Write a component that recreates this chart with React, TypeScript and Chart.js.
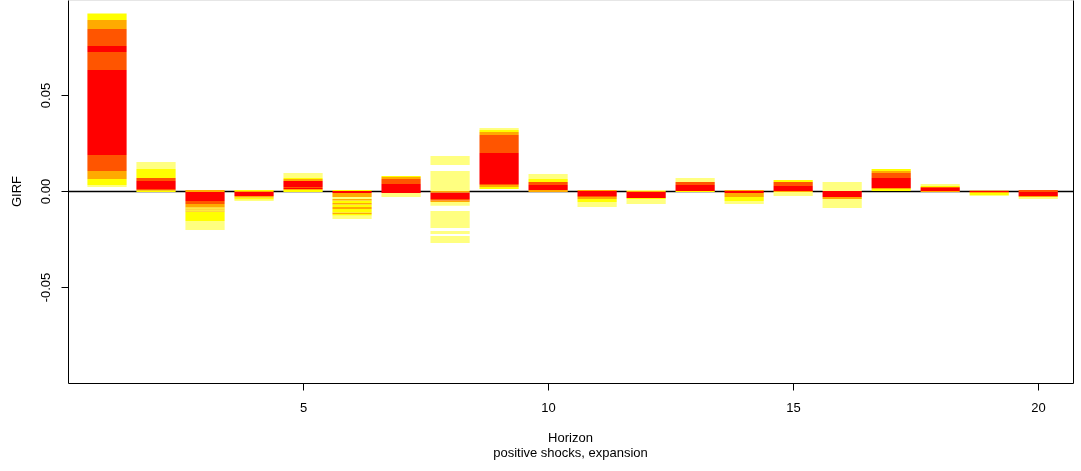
import React, { useEffect, useRef } from "react";
import { Chart, registerables } from "chart.js";

Chart.register(...registerables);

// Horizon index (x categories)
const horizons = [1, 2, 3, 4, 5, 6, 7, 8, 9, 10, 11, 12, 13, 14, 15, 16, 17, 18, 19, 20];
// R heat.colors(5): red, orange-red, orange, yellow, light yellow
const heatColors = ["#FF0000", "#FF5500", "#FFAA00", "#FFFF00", "#FFFF80"];
const yTicks = [-0.05, 0, 0.05];
const yTickLabels = ["-0.05", "0.00", "0.05"];
const xTicks = [5, 10, 15, 20];
const xTickLabels = ["5", "10", "15", "20"];

// Bands per horizon: [upper, lower, colour index]
const h1 = [
  [0.0927, 0.0922, 4], [0.0922, 0.0891, 3], [0.0891, 0.0844, 2], [0.0844, 0.0755, 1],
  [0.0755, 0.0724, 0], [0.0724, 0.063, 1], [0.063, 0.0188, 0], [0.0188, 0.0104, 1],
  [0.0104, 0.0063, 2], [0.0063, 0.0031, 3], [0.0031, 0.0021, 4],
];
const h2 = [
  [0.0151, 0.0115, 4], [0.0115, 0.0068, 3], [0.0068, 0.0052, 1], [0.0052, 0.001, 0],
  [0.001, 0.0004, 1], [0.0004, -0.0005, 3],
];
const h3 = [
  [0.0005, -0.0005, 2], [-0.0005, -0.0052, 0], [-0.0052, -0.0068, 1], [-0.0068, -0.0086, 2],
  [-0.0086, -0.0091, 3], [-0.0091, -0.0096, 2], [-0.0096, -0.0102, 3], [-0.0102, -0.0107, 2],
  [-0.0107, -0.0156, 3], [-0.0156, -0.0203, 4],
];
const h4 = [
  [0.0005, 0, 3], [0, -0.0005, 2], [-0.0005, -0.0026, 0], [-0.0026, -0.0034, 2],
  [-0.0034, -0.0044, 3], [-0.0044, -0.0052, 4],
];
const h5 = [
  [0.0094, 0.0068, 4], [0.0068, 0.0063, 3], [0.0063, 0.0052, 2], [0.0052, 0.0021, 0],
  [0.0021, 0.0016, 1], [0.0016, 0.001, 0], [0.001, 0.0005, 2], [0.0005, -0.0005, 3],
];
const h6 = [
  [0.0005, 0, 3], [0, -0.001, 0], [-0.001, -0.0031, 2], [-0.0031, -0.0042, 4],
  [-0.0042, -0.0049, 2], [-0.0049, -0.0063, 3], [-0.0063, -0.007, 2], [-0.007, -0.0083, 3],
  [-0.0083, -0.0094, 2], [-0.0094, -0.0112, 3], [-0.0112, -0.012, 2], [-0.012, -0.0128, 3],
  [-0.0128, -0.0146, 4],
];
const h7 = [
  [0.0078, 0.0073, 3], [0.0073, 0.0063, 2], [0.0063, 0.0036, 1], [0.0036, -0.001, 0],
  [-0.001, -0.0031, 4],
];
const h8 = [
  [0.0182, 0.0135, 4], [0.0104, 0.0, 4], [0.0, -0.0008, 2], [-0.0008, -0.0042, 0],
  [-0.0042, -0.0049, 1], [-0.0049, -0.0057, 2], [-0.0057, -0.0077, 4], [-0.0104, -0.0193, 4],
  [-0.0208, -0.0224, 4], [-0.0234, -0.0271, 4],
];
const h9 = [
  [0.0328, 0.0318, 4], [0.0318, 0.0307, 3], [0.0307, 0.0292, 2], [0.0292, 0.0198, 1],
  [0.0198, 0.0036, 0], [0.0036, 0.0031, 1], [0.0031, 0.0021, 2], [0.0021, 0.001, 3],
];
const h10 = [
  [0.0089, 0.0063, 4], [0.0063, 0.0047, 3], [0.0047, 0.0031, 1], [0.0031, 0.0005, 0],
  [0.0005, -0.0005, 2],
];
const h11 = [
  [0.0005, 0, 2], [0, -0.0026, 0], [-0.0026, -0.0031, 1], [-0.0031, -0.0042, 2],
  [-0.0042, -0.0057, 3], [-0.0057, -0.0083, 4],
];
const h12 = [
  [0.0005, 0, 4], [0, -0.0005, 2], [-0.0005, -0.0036, 0], [-0.0036, -0.0042, 3],
  [-0.0042, -0.0068, 4],
];
const h13 = [
  [0.0068, 0.0047, 4], [0.0047, 0.0031, 1], [0.0031, 0, 0], [0, -0.0005, 3],
];
const h14 = [
  [0.0005, 0, 2], [0, -0.001, 0], [-0.001, -0.0031, 2], [-0.0031, -0.0052, 3],
  [-0.0052, -0.0068, 4],
];
const h15 = [
  [0.0057, 0.0047, 3], [0.0047, 0.0026, 1], [0.0026, 0, 0], [0, -0.0005, 2],
  [-0.0005, -0.0026, 4],
];
const h16 = [
  [0.0047, 0, 4], [0, -0.0031, 0], [-0.0031, -0.0042, 2], [-0.0042, -0.0089, 4],
];
const h17 = [
  [0.0115, 0.0104, 3], [0.0104, 0.0094, 2], [0.0094, 0.0068, 1], [0.0068, 0.0016, 0],
  [0.0016, 0.001, 2], [0.001, 0, 3],
];
const h18 = [
  [0.0036, 0.0026, 4], [0.0026, 0.0021, 3], [0.0021, 0.0016, 1], [0.0016, 0, 0],
  [0, -0.0005, 2],
];
const h19 = [
  [0.0003, 0, 2], [0, -0.0005, 0], [-0.0005, -0.001, 2], [-0.001, -0.0021, 3],
  [-0.0021, -0.0026, 4],
];
const h20 = [
  [0.0005, -0.0005, 1], [-0.0005, -0.0026, 0], [-0.0026, -0.0031, 2], [-0.0031, -0.0042, 4],
];

const bands = [h1, h2, h3, h4, h5, h6, h7, h8, h9, h10, h11, h12, h13, h14, h15, h16, h17, h18, h19, h20];

const xTitle = "Horizon";
const xSubtitle = "positive shocks, expansion";
const yTitle = "GIRF";

const FONT = '13px "Liberation Sans", Arial, sans-serif';

export default function App() {
  const ref = useRef<HTMLCanvasElement>(null);

  useEffect(() => {
    if (!ref.current) return;
    const maxLayers = Math.max(...bands.map((b) => b.length));
    const datasets: any[] = [];
    for (let k = 0; k < maxLayers; k++) {
      datasets.push({
        data: bands.map((b) => (b[k] ? [b[k][1], b[k][0]] : null)),
        backgroundColor: bands.map((b) => (b[k] ? heatColors[b[k][2]] : "rgba(0,0,0,0)")),
        borderWidth: 0,
        borderSkipped: false,
        grouped: false,
        barPercentage: 0.8,
        categoryPercentage: 1,
      });
    }

    const rAxes = {
      id: "rAxes",
      beforeDatasetsDraw(chart: any) {
        const { ctx, chartArea, scales } = chart;
        const y0 = Math.round(scales.y.getPixelForValue(0)) + 0.5;
        ctx.save();
        ctx.strokeStyle = "#000";
        ctx.lineWidth = 1.3;
        ctx.beginPath();
        ctx.moveTo(chartArea.left, y0);
        ctx.lineTo(chartArea.right, y0);
        ctx.stroke();
        ctx.restore();
      },
      afterDraw(chart: any) {
        const { ctx, chartArea, scales } = chart;
        const L = Math.round(chartArea.left) + 0.5;
        const R = Math.round(chartArea.right) + 0.5;
        const B = Math.round(chartArea.bottom) + 0.5;
        const T = Math.round(chartArea.top) + 0.5;
        ctx.save();
        // box
        ctx.strokeStyle = "#e6e6e6";
        ctx.lineWidth = 1;
        ctx.beginPath();
        ctx.moveTo(L, T);
        ctx.lineTo(R, T);
        ctx.stroke();
        ctx.strokeStyle = "#000";
        ctx.beginPath();
        ctx.moveTo(L, T);
        ctx.lineTo(L, B);
        ctx.lineTo(R, B);
        ctx.lineTo(R, T);
        ctx.stroke();

        ctx.fillStyle = "#000";
        ctx.font = FONT;
        // y ticks
        yTicks.forEach((v, i) => {
          const py = Math.round(scales.y.getPixelForValue(v)) + 0.5;
          ctx.beginPath();
          ctx.moveTo(L - 7, py);
          ctx.lineTo(L, py);
          ctx.stroke();
          ctx.save();
          ctx.translate(L - 22, py);
          ctx.rotate(-Math.PI / 2);
          ctx.textAlign = "center";
          ctx.textBaseline = "middle";
          ctx.fillText(yTickLabels[i], 0, 0);
          ctx.restore();
        });
        // x ticks
        xTicks.forEach((v, i) => {
          const px = Math.round(scales.x.getPixelForValue(v)) + 0.5;
          ctx.beginPath();
          ctx.moveTo(px, B);
          ctx.lineTo(px, B + 7);
          ctx.stroke();
          ctx.textAlign = "center";
          ctx.textBaseline = "middle";
          ctx.fillText(xTickLabels[i], px, B + 25);
        });
        const cx = (chartArea.left + chartArea.right) / 2;
        ctx.textAlign = "center";
        ctx.textBaseline = "middle";
        ctx.fillText(xTitle, cx, B + 55);
        ctx.fillText(xSubtitle, cx, B + 70);
        ctx.save();
        ctx.translate(17, (chartArea.top + chartArea.bottom) / 2);
        ctx.rotate(-Math.PI / 2);
        ctx.fillText(yTitle, 0, 0);
        ctx.restore();
        ctx.restore();
      },
    };

    const chart = new Chart(ref.current, {
      type: "bar",
      data: { labels: horizons, datasets },
      options: {
        animation: false,
        responsive: false,
        maintainAspectRatio: false,
        layout: { padding: { left: 68, right: 8, top: 0, bottom: 88 } },
        plugins: { legend: { display: false }, tooltip: { enabled: false } },
        scales: {
          x: { type: "linear", min: 0.204, max: 20.71, offset: false, display: false },
          y: { type: "linear", min: -0.1, max: 0.0995, display: false },
        },
      },
      plugins: [rAxes],
    } as any);
    return () => chart.destroy();
  }, []);

  return (
    <canvas
      ref={ref}
      width={1081}
      height={471}
      style={{ position: "fixed", left: 0, top: 0, background: "#fff" }}
    />
  );
}
